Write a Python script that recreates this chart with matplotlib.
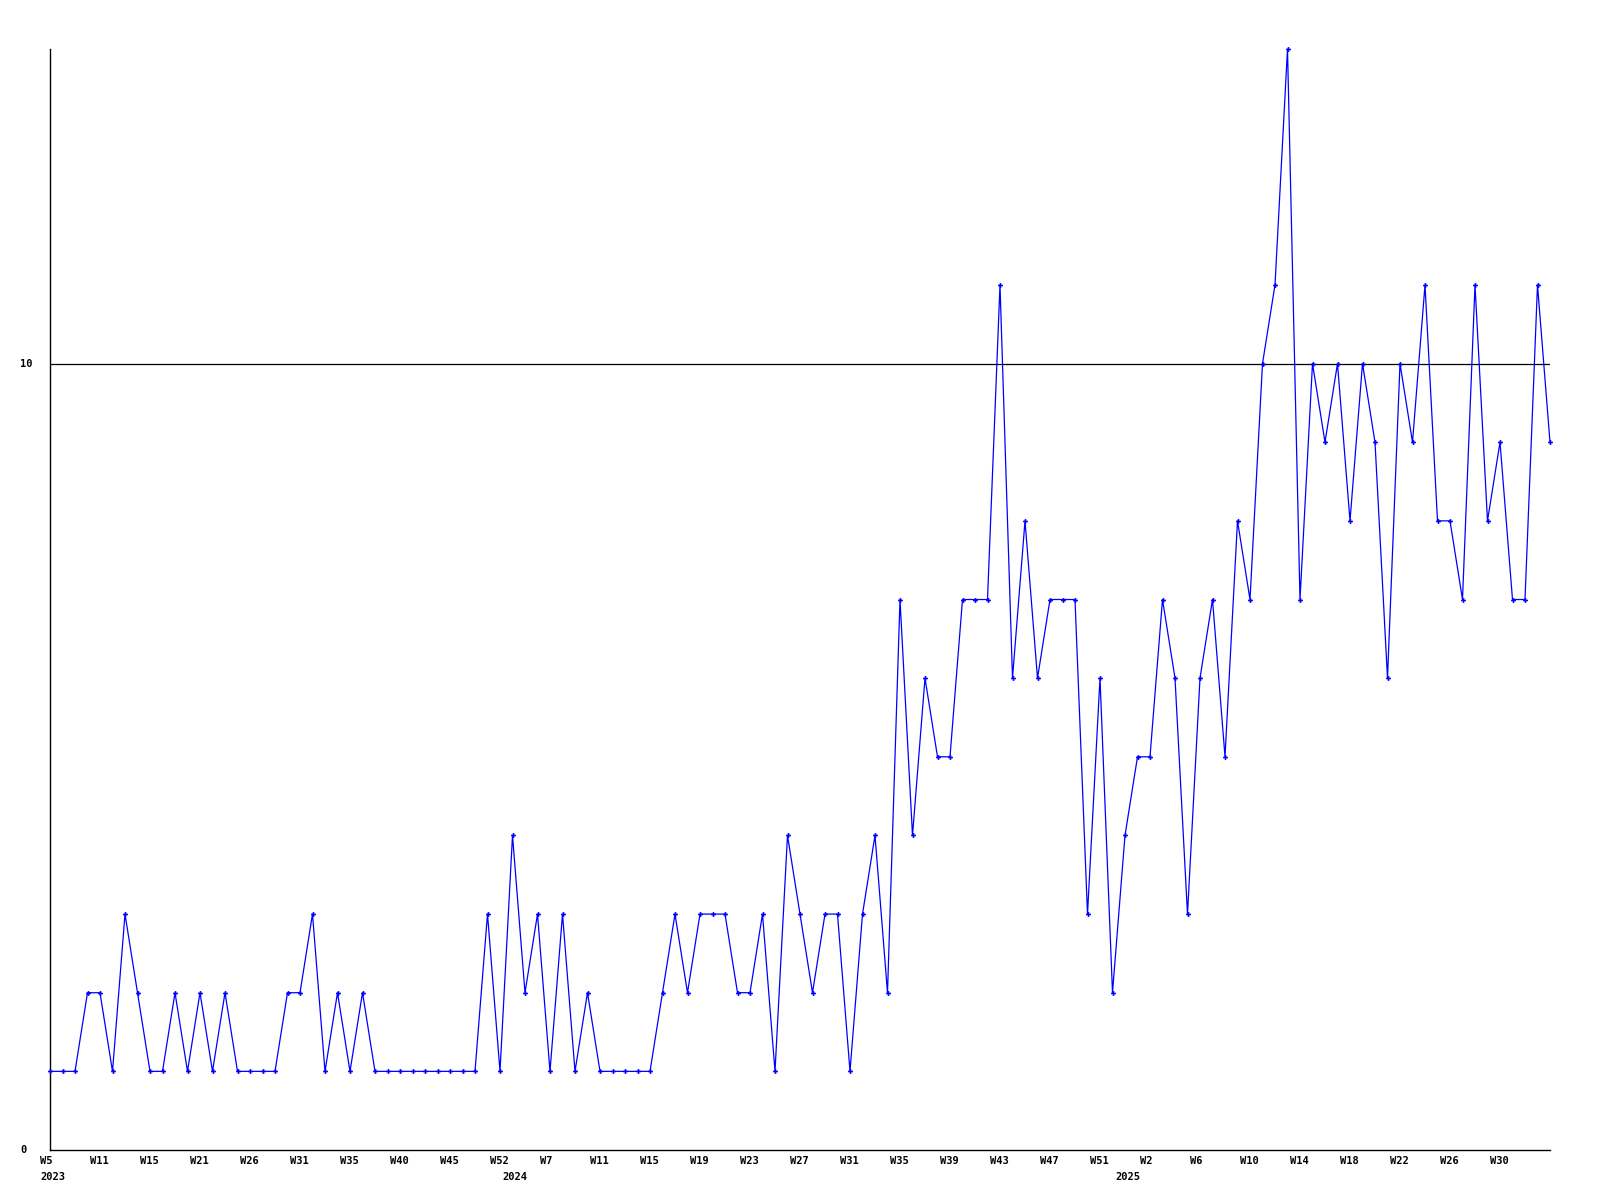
import matplotlib
matplotlib.use("Agg")
import matplotlib.pyplot as plt
from matplotlib.transforms import blended_transform_factory

# ---- data ----
values = [
    1, 1, 1, 2, 2, 1, 3, 2, 1, 1, 2, 1, 2, 1, 2, 1, 1, 1, 1, 2,
    2, 3, 1, 2, 1, 2, 1, 1, 1, 1, 1, 1, 1, 1, 1, 3, 1, 4, 2, 3,
    1, 3, 1, 2, 1, 1, 1, 1, 1, 2, 3, 2, 3, 3, 3, 2, 2, 3, 1, 4,
    3, 2, 3, 3, 1, 3, 4, 2, 7, 4, 6, 5, 5, 7, 7, 7, 11, 6, 8, 6,
    7, 7, 7, 3, 6, 2, 4, 5, 5, 7, 6, 3, 6, 7, 5, 8, 7, 10, 11, 14,
    7, 10, 9, 10, 8, 10, 9, 6, 10, 9, 11, 8, 8, 7, 11, 8, 9, 7, 7, 11,
    9,
]
week_labels = [
    "W5", "W11", "W15", "W21", "W26", "W31", "W35", "W40", "W45", "W52",
    "W7", "W11", "W15", "W19", "W23", "W27", "W31", "W35", "W39", "W43",
    "W47", "W51", "W2", "W6", "W10", "W14", "W18", "W22", "W26", "W30",
]
week_label_index = list(range(0, 120, 4))
year_labels = ["2023", "2024", "2025"]
year_label_index = [0, 37, 86]
y_tick_values = [0, 10]
y_max = 14

# ---- figure ----
W, H = 1600, 1200
fig = plt.figure(figsize=(W / 100, H / 100), dpi=100)
fig.patch.set_facecolor("white")
ax = fig.add_axes([50 / W, 1 - 1150 / H, 1500 / W, 1101 / H])
ax.set_facecolor("white")

x = list(range(len(values)))
ax.axhline(10, color="black", linewidth=0.9, zorder=1)
ax.plot(x, values, color="#0000ff", linewidth=0.9, marker="P",
        markersize=3.5, markeredgewidth=0, zorder=3, clip_on=False)

ax.set_xlim(0, len(values) - 1)
ax.set_ylim(0, y_max)
for side in ["top", "right"]:
    ax.spines[side].set_visible(False)
for side in ["left", "bottom"]:
    ax.spines[side].set_linewidth(1.0)
    ax.spines[side].set_color("black")
ax.set_xticks([])
ax.set_yticks([])

font = dict(family="DejaVu Sans Mono", fontsize=7.5, fontweight="bold",
            color="black")

tr_x = blended_transform_factory(ax.transData, fig.transFigure)
for idx, lab in zip(week_label_index, week_labels):
    fig.text(idx - 0.8, 1 - 1161 / H, lab, transform=tr_x, ha="left",
             va="center", **font)
for idx, lab in zip(year_label_index, year_labels):
    fig.text(idx - 0.8, 1 - 1177 / H, lab, transform=tr_x, ha="left",
             va="center", **font)

tr_y = blended_transform_factory(fig.transFigure, ax.transData)
for v in y_tick_values:
    fig.text(20 / W, v, str(v), transform=tr_y, ha="left", va="center",
             **font)

fig.savefig("out.png", dpi=100, facecolor="white")
